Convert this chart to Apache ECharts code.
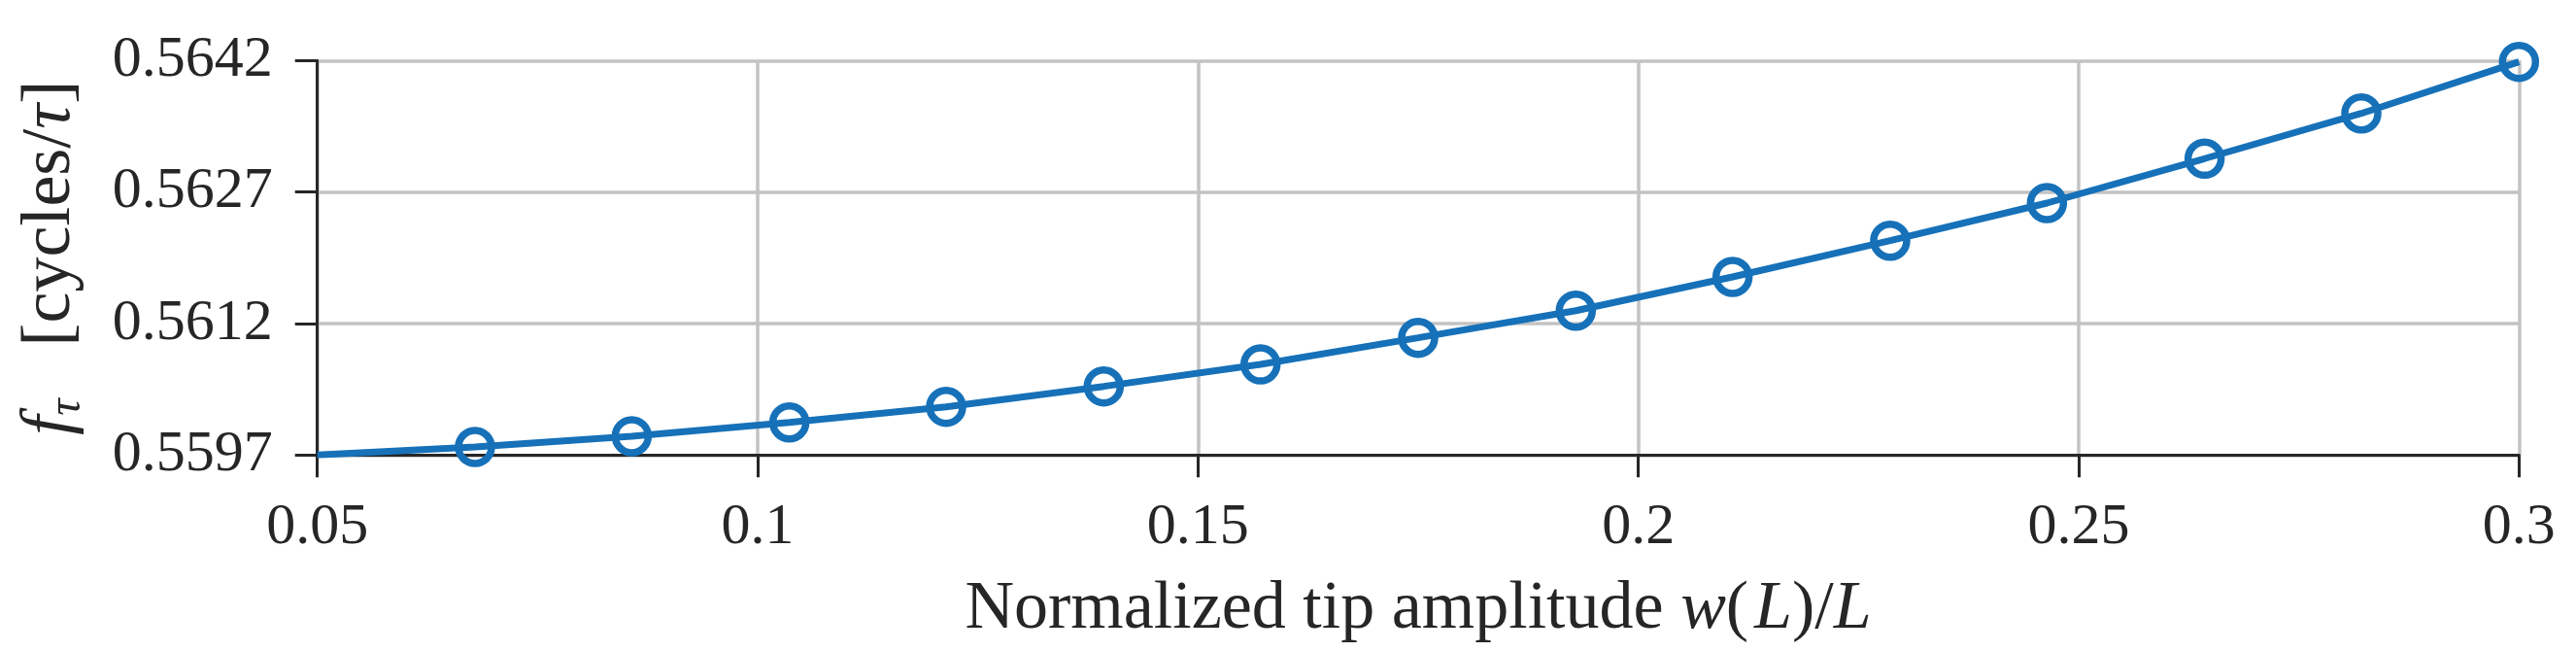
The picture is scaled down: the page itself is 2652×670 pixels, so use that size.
<!DOCTYPE html>
<html><head><meta charset="utf-8">
<script src="https://cdn.jsdelivr.net/npm/echarts@6/dist/echarts.min.js"></script>
<style>html,body{margin:0;padding:0;background:#fff}#c{width:2652px;height:670px}</style>
</head><body><div id="c"></div>
<script>
// Normalized tip amplitude w(L)/L
const xValues = [0.05, 0.0679, 0.0857, 0.1036, 0.1214, 0.1393, 0.1571, 0.1750, 0.1929, 0.2107, 0.2286, 0.2464, 0.2643, 0.2821, 0.3];
// f_tau [cycles/tau]
const fValues = [0.55970, 0.559792, 0.559914, 0.560072, 0.560250, 0.560483, 0.560734, 0.561037, 0.561347, 0.561732, 0.562145, 0.562574, 0.563081, 0.563597, 0.564185];
// points drawn with a marker (first point has none)
const markerShown = [false, true, true, true, true, true, true, true, true, true, true, true, true, true, true];
const yTicks = [0.5597, 0.5612, 0.5627, 0.5642];
const xTickStep = 0.05;
const xRange = [0.05, 0.3];

const FONT = 'Liberation Serif';
const INK = '#262626';
const BLUE = '#1671b9';
const GRID = '#c3c3c3';

const chart = echarts.init(document.getElementById('c'), null, {renderer: 'canvas'});
const data = xValues.map((x, i) => markerShown[i] ? [x, fValues[i]] : {value: [x, fValues[i]], symbol: 'none'});

chart.setOption({
  backgroundColor: '#ffffff',
  animation: false,
  grid: {left: 326.7, right: 58.7, top: 62.3, bottom: 201.7, containLabel: false},
  xAxis: {
    type: 'value', min: xRange[0], max: xRange[1], interval: xTickStep,
    axisLine: {show: true, lineStyle: {color: INK, width: 3}},
    axisTick: {show: true, length: 23, lineStyle: {color: INK, width: 3}},
    axisLabel: {color: INK, fontFamily: FONT, fontSize: 60, margin: 45,
      formatter: v => String(+v.toFixed(4))},
    splitLine: {show: true, lineStyle: {color: GRID, width: 3.5}},
    name: 'Normalized tip amplitude {i|w}(\u200a{i|L})/{i|L}',
    nameLocation: 'middle', nameGap: 124,
    nameTextStyle: {color: INK, fontFamily: FONT, fontSize: 70,
      rich: {i: {fontStyle: 'italic', fontFamily: FONT, fontSize: 70, color: INK}}}
  },
  yAxis: {
    type: 'value', min: yTicks[0], max: yTicks[yTicks.length - 1],
    axisLine: {show: true, lineStyle: {color: INK, width: 3}},
    axisTick: {show: true, length: 23, lineStyle: {color: INK, width: 3}, customValues: yTicks},
    axisLabel: {color: INK, fontFamily: FONT, fontSize: 60, margin: 46, customValues: yTicks,
      formatter: v => v.toFixed(4)},
    splitLine: {show: true, lineStyle: {color: GRID, width: 3.5}},
    name: '{i|f}{s|\u03c4}{n|   [cycles/}{i|\u03c4}{n|]}',
    nameLocation: 'middle', nameGap: 233,
    nameTextStyle: {color: INK, fontFamily: FONT, fontSize: 72,
      rich: {
        i: {fontStyle: 'italic', fontFamily: FONT, fontSize: 72, color: INK, lineHeight: 84},
        n: {fontFamily: FONT, fontSize: 72, color: INK, lineHeight: 84},
        s: {fontStyle: 'italic', fontFamily: FONT, fontSize: 48, color: INK, lineHeight: 84, verticalAlign: 'bottom'}
      }}
  },
  series: [{
    type: 'line', data: data, clip: true,
    lineStyle: {color: BLUE, width: 7},
    symbol: 'circle', symbolSize: 34, showAllSymbol: true,
    itemStyle: {color: 'rgba(0,0,0,0)', borderColor: BLUE, borderWidth: 7.5},
    z: 3
  }]
});
</script></body></html>
